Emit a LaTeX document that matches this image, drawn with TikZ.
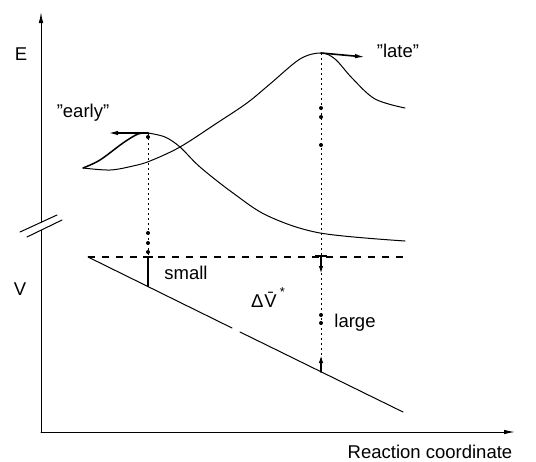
\documentclass[tikz,border=0pt]{standalone}
\usepackage{fontspec}
\setmainfont{Liberation Sans}
\usetikzlibrary{arrows.meta}

\begin{document}
\begin{tikzpicture}[x=1pt,y=-1pt,line join=round,line cap=round,
  axis/.style={line width=1pt,-{Latex[length=11pt,width=4.5pt]}},
  curve/.style={line width=1pt},
  rise/.style={line width=1.5pt},
  shift arrow/.style={line width=1.6pt,-{Latex[length=10pt,width=4.5pt]}},
  guide/.style={line width=0.7pt,dash pattern=on 2pt off 3pt,line cap=butt},
  level/.style={line width=1.1pt,dash pattern=on 7pt off 7pt,line cap=butt},
  bar/.style={line width=1.4pt,line cap=butt},
  thick seg/.style={line width=2.4pt},
  tip seg/.style={line width=1.8pt,-{Latex[length=8pt,width=4.5pt]}},
  lbl/.style={inner sep=0pt,anchor=base,font=\fontsize{18.5}{18.5}\selectfont}
]
\useasboundingbox (0,0) rectangle (536,461);

% axes
\coordinate (ytop) at (41,12);
\coordinate (ybrkA) at (41,222);
\coordinate (ybrkB) at (41,230);
\coordinate (origin) at (41,432);
\coordinate (xend) at (515,432);
\draw[axis] (ybrkA) -- (ytop);
\draw[line width=1pt] (ybrkB) -- (origin);
\draw[axis] (origin) -- (xend);
% axis break
\draw[line width=1pt] (20,232) -- (57,215);
\draw[line width=1pt] (27,237) -- (62,220);

% energy curves
\coordinate (pE) at (148,133);
\coordinate (pL) at (321,53);
\draw[rise] plot[smooth,tension=0.55] coordinates {(83,168) (100,160) (123,143) (138,134) (148,133)};
\draw[curve] plot[smooth,tension=0.55] coordinates {(148,133) (165,137) (180,147) (200,167) (233,193) (268,216) (320,233) (405,241)};
\draw[curve] plot[smooth,tension=0.55] coordinates {(83,168) (110,170) (133,166) (150,161) (180,147) (217,123) (247,103) (270,84) (300,59) (321,53) (335,59) (352,78) (375,99) (405,108)};

% shift arrows
\coordinate (eTip) at (108,133);
\coordinate (lTip) at (365,57);
\draw[shift arrow] (pE) -- (eTip);
\draw[shift arrow] (pL) -- (lTip);

% volume lines
\coordinate (vStart) at (88,257);
\coordinate (vEnd) at (407,257);
\coordinate (gapA) at (232,328);
\coordinate (gapB) at (240,332);
\coordinate (sEnd) at (403,412);
\draw[level] (vStart) -- (vEnd);
\draw[curve] (vStart) -- (gapA);
\draw[curve] (gapB) -- (sEnd);

% early guide
\coordinate (eTop) at (148,257);
\coordinate (eBot) at (148,286);
\draw[guide] (pE) -- (eTop);
\foreach \yy in {137,233,243,252} \fill (148,\yy) circle[radius=2pt];
\draw[bar] (143,257) -- (153,257);
\draw[thick seg] (eTop) -- (eBot);

% late guide
\coordinate (lTop) at (321,256);
\coordinate (lTopTip) at (321,274);
\coordinate (lBot) at (321,372);
\coordinate (lBotTip) at (321,355);
\draw[guide] (pL) -- (lBot);
\foreach \yy in {108,117,145,315,323} \fill (321,\yy) circle[radius=2pt];
\draw[bar] (315,256) -- (327,256);
\draw[tip seg] (lTop) -- (lTopTip);
\draw[tip seg] (lBot) -- (lBotTip);

% labels
\node[lbl] (lE) at (21,60) {E};
\node[lbl] (lV) at (20,295) {V};
\node[lbl] (lEarly) at (83,117) {"early"};
\node[lbl] (lLate) at (398,57) {"late"};
\node[lbl] (lSmall) at (186,279) {small};
\node[lbl] (lLarge) at (355,327) {large};
\node[lbl] (lDV) at (268,307) {Δ\kern1pt\={V}\kern3pt\raisebox{1.1ex}{\fontsize{13}{13}\selectfont *}};
\node[lbl] (lRC) at (430,458) {Reaction coordinate};
\end{tikzpicture}
\end{document}
